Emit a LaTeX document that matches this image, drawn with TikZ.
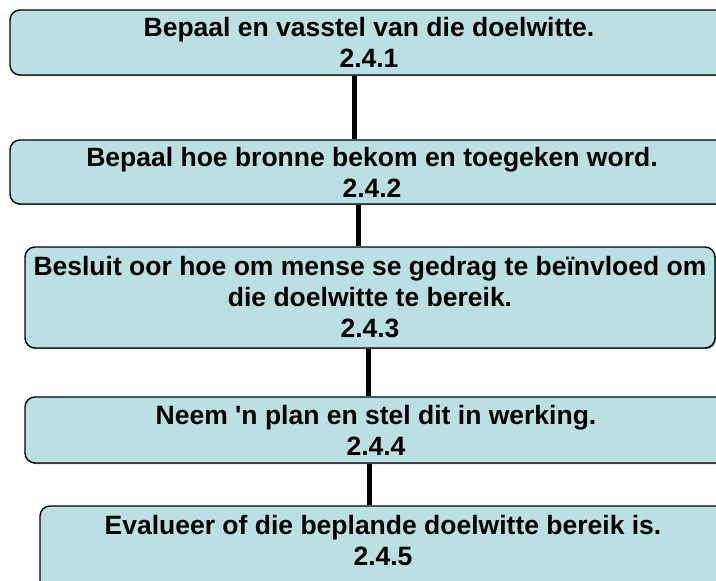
\documentclass[tikz,border=0pt]{standalone}
\usepackage{fontspec}
\setmainfont{Liberation Sans}[Ligatures=TeXOff]
\usetikzlibrary{shadows}

\definecolor{boxfill}{RGB}{187,224,227}

\tikzset{
  stepbox/.style={draw=black, line width=1.4pt, fill=boxfill, rounded corners=10pt,
    align=center, inner sep=0pt, font=\fontsize{26.5}{31}\selectfont\bfseries,
    drop shadow={shadow xshift=1.2pt, shadow yshift=-1.2pt, fill=black!40, opacity=1}},
  link/.style={line width=5pt, black}
}

\begin{document}
\begin{tikzpicture}[x=1pt, y=-1pt]
  \useasboundingbox (0,0) rectangle (716,581);
  \clip (0,0) rectangle (716,581);

  % stappe
  \node[stepbox, minimum width=718, minimum height=65] (b1) at (369,42.5)
    {Bepaal en vasstel van die doelwitte.\\2.4.1};
  \node[stepbox, minimum width=724, minimum height=64] (b2) at (372,172)
    {Bepaal hoe bronne bekom en toegeken word.\\2.4.2};
  \node[stepbox, minimum width=690, minimum height=101] (b3) at (370,297.5)
    {Besluit oor hoe om mense se gedrag te beïnvloed om\\die doelwitte te bereik.\\2.4.3};
  \node[stepbox, minimum width=702, minimum height=66] (b4) at (376,430)
    {Neem 'n plan en stel dit in werking.\\2.4.4};
  \node[stepbox, minimum width=686, minimum height=100] (b5) at (383,556)
    {Evalueer of die beplande doelwitte bereik is.\\2.4.5\\~};

  % verbindings
  \draw[link] ([xshift=-15pt]b1.south) -- ([xshift=-15pt]b1.south |- b2.north);
  \draw[link] ([xshift=-14pt]b2.south) -- ([xshift=-14pt]b2.south |- b3.north);
  \draw[link] ([xshift=-2pt]b3.south) -- ([xshift=-2pt]b3.south |- b4.north);
  \draw[link] ([xshift=-7pt]b4.south) -- ([xshift=-7pt]b4.south |- b5.north);
\end{tikzpicture}
\end{document}
